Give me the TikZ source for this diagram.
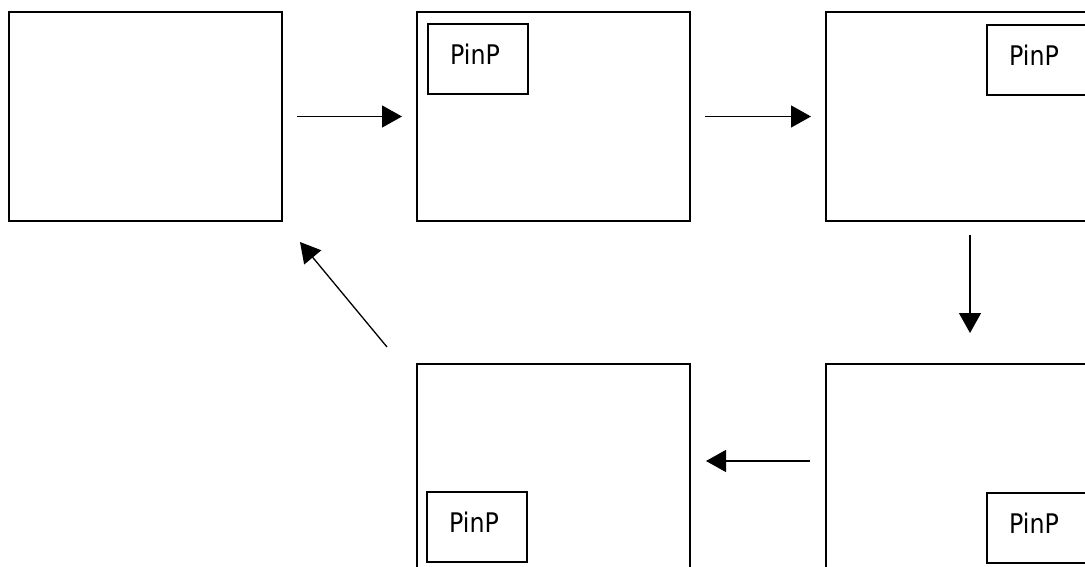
\documentclass[tikz,border=0pt]{standalone}
\usepackage{fontspec}
\setmainfont{DejaVu Sans}
\newfontfamily\pipfont[FakeStretch=0.88]{DejaVu Sans}
\usetikzlibrary{arrows.meta,calc}

\begin{document}
\begin{tikzpicture}[x=1pt,y=-1pt,
  screen/.style={draw=black, line width=1.3pt, minimum width=273pt, minimum height=209pt,
    inner sep=0pt, outer sep=0pt, anchor=north west},
  pipbox/.style={draw=black, line width=1.2pt, minimum width=100pt, minimum height=70pt,
    inner sep=0pt, outer sep=0pt, anchor=north west},
  piplabel/.style={font=\pipfont\fontsize{27}{27}\selectfont, inner sep=0pt},
  flow/.style={line width=1.3pt, -{Triangle[length=20pt,width=22pt]}}]
  \useasboundingbox (0,0) rectangle (1085,567);
  \clip (0,0) rectangle (1085,567);
  \fill[white] (0,0) rectangle (1085,567);

  % full-screen frames
  \node[screen] (b1) at (9,12) {};
  \node[screen] (b2) at (417,12) {};
  \node[screen] (b3) at (826,12) {};
  \node[screen] (b4) at (417,364) {};
  \node[screen] (b5) at (826,364) {};

  % picture-in-picture windows in each corner
  \node[pipbox] (p2) at (428,24) {};
  \node[pipbox] (p3) at (987,25) {};
  \node[pipbox] (p4) at (427,492) {};
  \node[pipbox] (p5) at (987,493) {};
  \foreach \p in {p2,p3,p4,p5}
    \node[piplabel] (\p t) at ($(\p.center)+(-3,-5)$) {PinP};

  % cycle of transitions
  \draw[flow] ($(b1.east)+(15,0)$) -- ($(b2.west)+(-15,0)$);
  \draw[flow] ($(b2.east)+(15,0)$) -- ($(b3.west)+(-15,0)$);
  \draw[flow] ($(b3.south west)+(144,14)$) -- ($(b5.north west)+(144,-31)$);
  \draw[flow] ($(b5.north west)+(-16,97)$) -- ($(b4.north east)+(16,97)$);
  \draw[flow] ($(b4.north west)+(-30,-17)$) -- ($(b1.south east)+(18,21)$);
\end{tikzpicture}
\end{document}
